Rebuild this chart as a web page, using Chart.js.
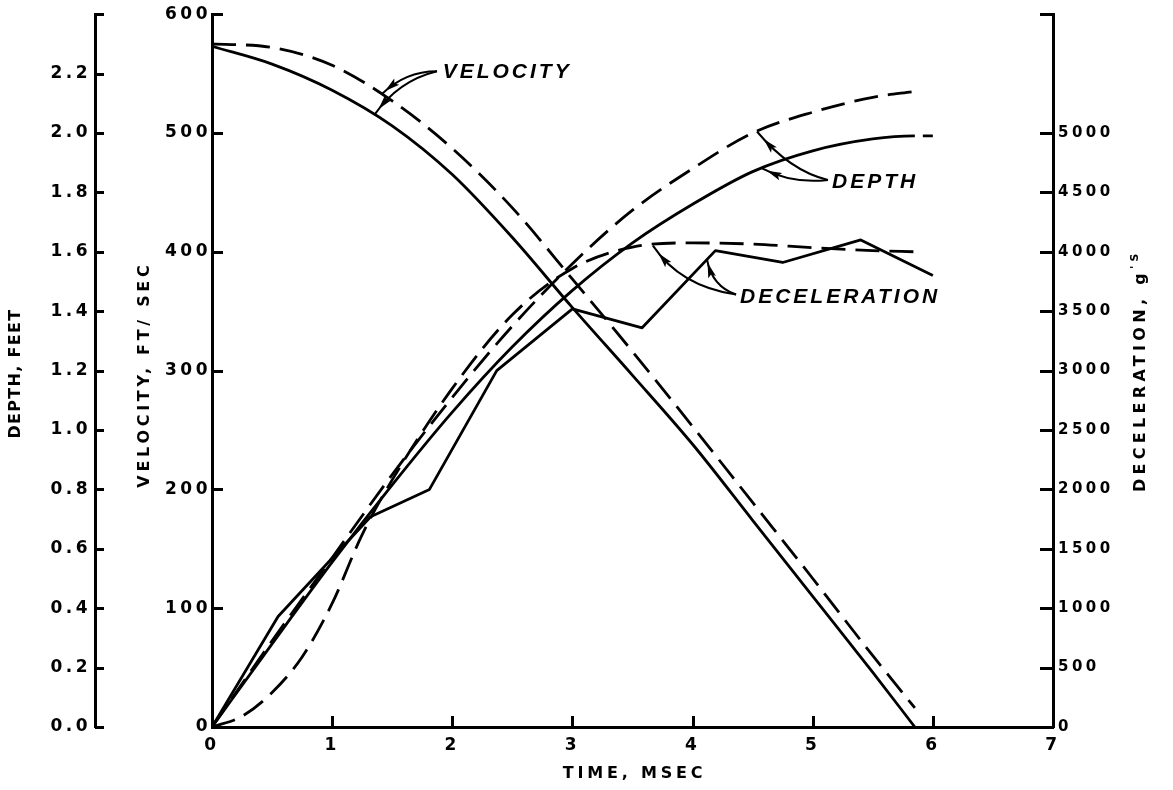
<!DOCTYPE html>
<html>
<head>
<meta charset="utf-8">
<title>Velocity, depth and deceleration versus time</title>
<script src="https://cdn.jsdelivr.net/npm/chart.js@4.4.1/dist/chart.umd.min.js"></script>
<style>
  html, body { margin: 0; padding: 0; background: #fff; }
  canvas { display: block; }
</style>
</head>
<body>
<canvas id="chart" width="1173" height="790"></canvas>
<script>
// Time base (ms) shared by the smooth velocity / dashed depth curves
const timeMs         = [0, 0.5, 1, 1.5, 2, 2.5, 3, 3.5, 4, 4.5, 5, 5.5, 5.85];
const velocitySolid  = [573, 558, 536, 506, 465, 412, 353, 296, 238, 174, 110, 46, 0];     // ft/sec
const velocityDashed = [575, 572, 557, 527, 487, 437, 377, 316, 253, 189, 125, 60, 16];    // ft/sec
const depthDashed    = [0, 0.29, 0.57, 0.85, 1.11, 1.35, 1.56, 1.74, 1.88, 2.0, 2.07, 2.12, 2.14]; // feet

const depthSolidTime = [0, 0.5, 1, 1.5, 2, 2.5, 3, 3.5, 4, 4.5, 5, 5.5, 5.85, 6.0];
const depthSolid     = [0, 0.28, 0.555, 0.815, 1.06, 1.28, 1.47, 1.63, 1.76, 1.87, 1.94, 1.98, 1.99, 1.99];

const decelSolidTime = [0, 0.55, 1.32, 1.81, 2.37, 3.0, 3.58, 4.19, 4.75, 5.4, 6.0];
const decelSolid     = [0, 930, 1770, 2000, 3000, 3520, 3360, 4010, 3910, 4100, 3800];    // g's

const decelDashedTime = [0, 0.25, 0.5, 0.75, 1, 1.25, 1.5, 2, 2.5, 3, 3.5, 4, 4.5, 5, 5.5, 5.85];
const decelDashed     = [0, 90, 290, 590, 1040, 1620, 2080, 2850, 3470, 3860, 4040, 4075, 4065, 4035, 4010, 4000];

// Axis ticks
const timeTicks     = [0, 1, 2, 3, 4, 5, 6, 7];
const velocityTicks = [0, 100, 200, 300, 400, 500, 600];
const depthTicks    = [0, 0.2, 0.4, 0.6, 0.8, 1.0, 1.2, 1.4, 1.6, 1.8, 2.0, 2.2, 2.4];
const decelTicks    = [0, 500, 1000, 1500, 2000, 2500, 3000, 3500, 4000, 4500, 5000, 6000];

const INK = '#000';
const DASH = [24, 10];

function pairs(xs, ys) { return xs.map((x, i) => ({ x: x, y: ys[i] })); }

function valueAt(xs, ys, t) {
  for (let i = 1; i < xs.length; i++) {
    if (t <= xs[i]) {
      const f = (t - xs[i - 1]) / (xs[i] - xs[i - 1]);
      return ys[i - 1] + f * (ys[i] - ys[i - 1]);
    }
  }
  return ys[ys.length - 1];
}

function curve(label, xs, ys, axis, dashed, smooth) {
  return {
    label: label,
    data: pairs(xs, ys),
    yAxisID: axis,
    borderColor: INK,
    borderWidth: 2.8,
    borderDash: dashed ? DASH : [],
    pointRadius: 0,
    fill: false,
    tension: 0,
    cubicInterpolationMode: smooth ? 'monotone' : 'default',
    borderJoinStyle: 'round'
  };
}

const depthSolidSet = curve('Depth', depthSolidTime, depthSolid, 'yDepth', false, true);
// the last stretch of the measured depth trace is drawn as a short dash
depthSolidSet.segment = {
  borderDash: ctx => ctx.p1DataIndex === depthSolid.length - 1 ? [0, 8, 13, 60] : undefined
};

// Callout labels with leader arrows; positions in (time, velocity) units
const callouts = [
  { text: 'VELOCITY', at: [1.92, 551], from: [1.873, 552],
    arrows: [
      { ctrl: [1.606, 552], xs: timeMs, ys: velocityDashed, axis: 'yVel', t: 1.41 },
      { ctrl: [1.548, 544], xs: timeMs, ys: velocitySolid,  axis: 'yVel', t: 1.35 }
    ] },
  { text: 'DEPTH', at: [5.161, 459], from: [5.127, 460.5],
    arrows: [
      { ctrl: [4.811, 468], xs: timeMs,         ys: depthDashed, axis: 'yDepth', t: 4.536 },
      { ctrl: [4.828, 457], xs: depthSolidTime, ys: depthSolid,  axis: 'yDepth', t: 4.578 }
    ] },
  { text: 'DECELERATION', at: [4.395, 362], from: [4.362, 364],
    arrows: [
      { ctrl: [3.895, 371], xs: decelDashedTime, ys: decelDashed, axis: 'yDecel', t: 3.67 },
      { ctrl: [4.162, 371], xs: decelSolidTime,  ys: decelSolid,  axis: 'yDecel', t: 4.12 }
    ] }
];

function drawArrow(ctx, p0, c, p2) {
  ctx.beginPath();
  ctx.moveTo(p0.x, p0.y);
  ctx.quadraticCurveTo(c.x, c.y, p2.x, p2.y);
  ctx.stroke();
  const s = 0.86;
  const bx = (1 - s) * (1 - s) * p0.x + 2 * (1 - s) * s * c.x + s * s * p2.x;
  const by = (1 - s) * (1 - s) * p0.y + 2 * (1 - s) * s * c.y + s * s * p2.y;
  const dx = 2 * (1 - s) * (c.x - p0.x) + 2 * s * (p2.x - c.x);
  const dy = 2 * (1 - s) * (c.y - p0.y) + 2 * s * (p2.y - c.y);
  const a = Math.atan2(dy, dx);
  const L = 11, W = 4;
  ctx.beginPath();
  ctx.moveTo(bx + Math.cos(a) * 4, by + Math.sin(a) * 4);
  ctx.lineTo(bx - Math.cos(a) * L + Math.sin(a) * W, by - Math.sin(a) * L - Math.cos(a) * W);
  ctx.lineTo(bx - Math.cos(a) * (L - 3), by - Math.sin(a) * (L - 3));
  ctx.lineTo(bx - Math.cos(a) * L - Math.sin(a) * W, by - Math.sin(a) * L + Math.cos(a) * W);
  ctx.closePath();
  ctx.fill();
}

function rotatedTitle(ctx, text, sup, cx, cy, spacing) {
  ctx.save();
  ctx.translate(cx, cy);
  ctx.rotate(-Math.PI / 2);
  ctx.letterSpacing = spacing + 'px';
  ctx.font = 'bold 16px "DejaVu Sans"';
  const w1 = ctx.measureText(text).width;
  let w2 = 0;
  if (sup) { ctx.font = 'bold 11px "DejaVu Sans"'; w2 = ctx.measureText(sup).width; }
  const x0 = -(w1 + w2) / 2;
  ctx.font = 'bold 16px "DejaVu Sans"';
  ctx.textAlign = 'left';
  ctx.textBaseline = 'middle';
  ctx.fillText(text, x0, 0);
  if (sup) {
    ctx.font = 'bold 11px "DejaVu Sans"';
    ctx.fillText(sup, x0 + w1, -6);
  }
  ctx.restore();
}

const decorations = {
  id: 'decorations',
  beforeDraw(chart) {
    chart.ctx.letterSpacing = '3.5px';
  },
  afterDraw(chart) {
    const ctx = chart.ctx;
    const sx = chart.scales.x, sv = chart.scales.yVel, sd = chart.scales.yDepth, sg = chart.scales.yDecel;
    const area = chart.chartArea;
    ctx.save();
    ctx.strokeStyle = INK;
    ctx.fillStyle = INK;
    ctx.lineCap = 'butt';

    // inward tick marks
    ctx.lineWidth = 3;
    sx.ticks.forEach(tk => {
      const p = Math.round(sx.getPixelForValue(tk.value)) + 0.5;
      ctx.beginPath(); ctx.moveTo(p, area.bottom); ctx.lineTo(p, area.bottom - 11); ctx.stroke();
    });
    sv.ticks.forEach(tk => {
      const p = Math.round(sv.getPixelForValue(tk.value)) + 0.5;
      ctx.beginPath(); ctx.moveTo(sv.right, p); ctx.lineTo(sv.right + 11, p); ctx.stroke();
    });
    sd.ticks.forEach(tk => {
      const p = Math.round(sd.getPixelForValue(tk.value)) + 0.5;
      ctx.beginPath(); ctx.moveTo(sd.right, p); ctx.lineTo(sd.right + 9, p); ctx.stroke();
    });
    sg.ticks.forEach(tk => {
      const p = Math.round(sg.getPixelForValue(tk.value)) + 0.5;
      ctx.beginPath(); ctx.moveTo(sg.left, p); ctx.lineTo(sg.left - 13, p); ctx.stroke();
    });

    // axis titles
    const midY = (area.top + area.bottom) / 2;
    rotatedTitle(ctx, 'DEPTH, FEET', '', sd.left + 16, midY + 3, 1.3);
    rotatedTitle(ctx, 'VELOCITY, FT/ SEC', '', sv.left + 50, midY + 4, 3.7);
    rotatedTitle(ctx, 'DECELERATION, g', "'S", sg.left + 88, midY, 4.3);
    ctx.save();
    ctx.letterSpacing = '3.8px';
    ctx.font = 'bold 16px "DejaVu Sans"';
    ctx.textAlign = 'center';
    ctx.textBaseline = 'middle';
    ctx.fillText('TIME, MSEC', (area.left + area.right) / 2 + 2, sx.bottom - 16);
    ctx.restore();

    // callouts
    ctx.lineWidth = 2;
    callouts.forEach(c => {
      const px = v => sx.getPixelForValue(v[0]);
      const py = v => sv.getPixelForValue(v[1]);
      ctx.save();
      ctx.font = 'italic bold 21px "Liberation Sans"';
      ctx.letterSpacing = '3px';
      ctx.textAlign = 'left';
      ctx.textBaseline = 'middle';
      ctx.fillText(c.text, px(c.at), py(c.at));
      ctx.restore();
      const p0 = { x: px(c.from), y: py(c.from) };
      c.arrows.forEach(a => {
        const ctrl = { x: px(a.ctrl), y: py(a.ctrl) };
        const ys = chart.scales[a.axis];
        const tip = { x: sx.getPixelForValue(a.t), y: ys.getPixelForValue(valueAt(a.xs, a.ys, a.t)) };
        drawArrow(ctx, p0, ctrl, tip);
      });
    });
    ctx.restore();
  }
};

const tickFont = { family: 'DejaVu Sans', weight: 'bold', size: 17 };
const noGrid = { display: false, drawTicks: false, drawOnChartArea: false };
const border = { display: true, color: INK, width: 3 };

new Chart(document.getElementById('chart'), {
  type: 'line',
  data: {
    datasets: [
      curve('Velocity', timeMs, velocitySolid, 'yVel', false, true),
      curve('Velocity (dashed)', timeMs, velocityDashed, 'yVel', true, true),
      depthSolidSet,
      curve('Depth (dashed)', timeMs, depthDashed, 'yDepth', true, true),
      curve('Deceleration', decelSolidTime, decelSolid, 'yDecel', false, false),
      curve('Deceleration (dashed)', decelDashedTime, decelDashed, 'yDecel', true, true)
    ]
  },
  options: {
    responsive: false,
    animation: false,
    devicePixelRatio: 1,
    layout: { padding: { top: 13, left: 0, right: 0, bottom: 0 } },
    plugins: { legend: { display: false }, tooltip: { enabled: false } },
    scales: {
      x: {
        type: 'linear', position: 'bottom', min: 0, max: 7,
        grid: noGrid, border: border,
        afterBuildTicks: s => { s.ticks = timeTicks.map(v => ({ value: v })); },
        afterFit: s => { s.height = 63; },
        ticks: { color: INK, font: tickFont, padding: 8, maxRotation: 0, autoSkip: false,
                 callback: v => String(v) }
      },
      yVel: {
        type: 'linear', position: 'left', weight: 0, min: 0, max: 600,
        grid: noGrid, border: border,
        afterBuildTicks: s => { s.ticks = velocityTicks.map(v => ({ value: v })); },
        afterFit: s => { s.width = 117; },
        ticks: { color: INK, font: tickFont, padding: 1, autoSkip: false, callback: v => String(v) }
      },
      yDepth: {
        type: 'linear', position: 'left', weight: 1, min: 0, max: 2.4,
        grid: noGrid, border: border,
        afterBuildTicks: s => { s.ticks = depthTicks.map(v => ({ value: v })); },
        afterFit: s => { s.width = 95; },
        ticks: { color: INK, font: tickFont, padding: 4, autoSkip: false,
                 callback: v => v > 2.3 ? '' : Number(v).toFixed(1) }
      },
      yDecel: {
        type: 'linear', position: 'right', min: 0, max: 6000,
        grid: noGrid, border: border,
        afterBuildTicks: s => { s.ticks = decelTicks.map(v => ({ value: v })); },
        afterFit: s => { s.width = 120; },
        ticks: { color: INK, font: { family: 'DejaVu Sans', weight: 'bold', size: 15 }, padding: 5,
                 autoSkip: false, callback: v => v > 5000 ? '' : String(v) }
      }
    }
  },
  plugins: [decorations]
});
</script>
</body>
</html>
